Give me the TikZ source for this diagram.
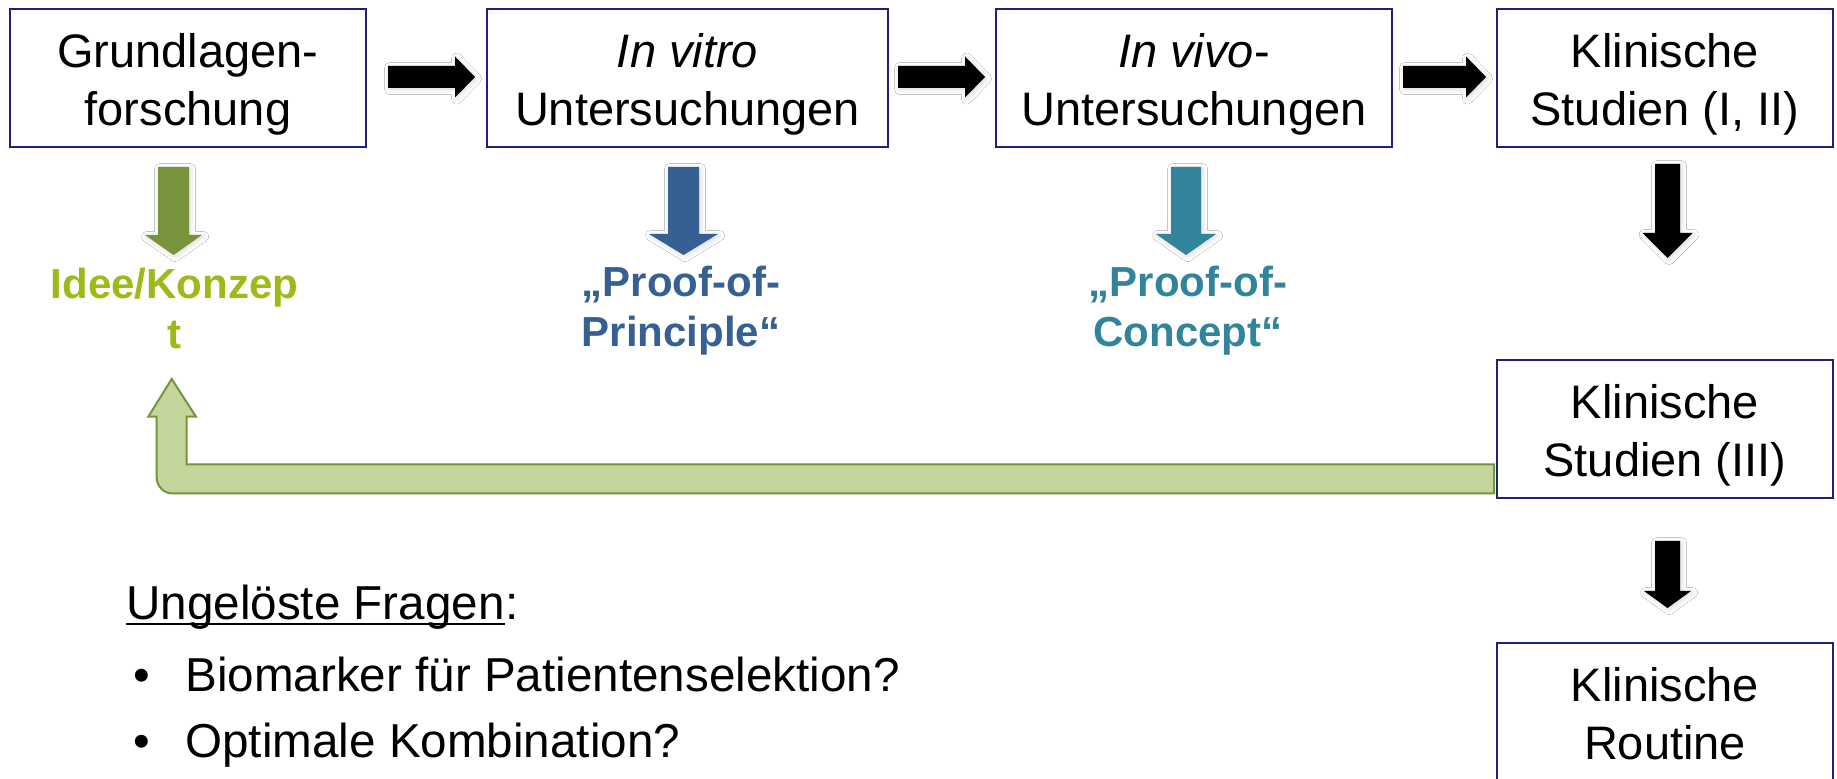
\documentclass[tikz,border=0pt]{standalone}
\usepackage{fontspec}
\setmainfont{Liberation Sans}
\usetikzlibrary{calc,shadows.blur}
\definecolor{navyb}{RGB}{32,32,128}
\definecolor{olivegr}{RGB}{119,147,60}
\definecolor{ideegr}{RGB}{155,187,25}
\definecolor{pblue}{RGB}{55,96,146}
\definecolor{pteal}{RGB}{49,132,155}
\definecolor{lightgr}{RGB}{195,214,155}
% two-line box text, set a little lower than centred
\newcommand\btext[1]{\raisebox{-3.3pt}[\height][\depth]{\begin{tabular}{@{}c@{}}#1\end{tabular}}}
% right block arrow: start, tip, colour
\newcommand\rblock[3]{%
  \fill[#3,bshadow] ($(#1)+(0,-11)$) -- ($(#2)+(-20,-11)$) -- ($(#2)+(-20,-20.5)$) -- (#2)
    -- ($(#2)+(-20,20.5)$) -- ($(#2)+(-20,11)$) -- ($(#1)+(0,11)$) -- cycle;}
% down block arrow: top, tip, shaft half, head half, head length, colour
\newcommand\dblock[6]{%
  \fill[#6,bshadow] ($(#1)+(-#3,0)$) -- ($(#2)+(-#3,-#5)$) -- ($(#2)+(-#4,-#5)$) -- (#2)
    -- ($(#2)+(#4,-#5)$) -- ($(#2)+(#3,-#5)$) -- ($(#1)+(#3,0)$) -- cycle;}
\begin{document}
\begin{tikzpicture}[x=0.5pt,y=-0.5pt,
  box/.style={draw=navyb, line width=1pt, fill=white, inner sep=0pt, minimum height=69pt,
    font=\fontsize{23.5}{29}\selectfont},
  lab/.style={inner sep=0pt, align=center, font=\bfseries\fontsize{21}{25}\selectfont},
  qtext/.style={inner sep=0pt, anchor=base west, font=\fontsize{23.8}{29}\selectfont},
  bshadow/.style={blur shadow={shadow xshift=0.8pt,shadow yshift=-0.8pt,shadow blur radius=2.5pt,shadow opacity=15}}]
\useasboundingbox (0,0) rectangle (1837,779);
\clip (0,0) rectangle (1837,779);
\fill[white] (0,0) rectangle (1837,779);

% boxes
\node[box, minimum width=178pt]   (b1) at (188,78)    {\btext{Grundlagen-\\forschung}};
\node[box, minimum width=200.5pt] (b2) at (687.5,78)  {\btext{\textit{In vitro}\\Untersuchungen}};
\node[box, minimum width=198pt]   (b3) at (1194,78)   {\btext{\textit{In vivo}-\\Untersuchungen}};
\node[box, minimum width=168pt]   (b4) at (1665,78)   {\btext{Klinische\\Studien (I, II)}};
\node[box, minimum width=168pt]   (b5) at (1665,429.5) {\btext{Klinische\\Studien (III)}};
\node[box, minimum width=168pt]   (b6) at (1665,712)  {\btext{Klinische\\Routine}};

% right arrows
\coordinate (r1s) at ($(b1.east)+(21,-1)$);
\coordinate (r1t) at ($(b2.west)+(-11,-1)$);
\coordinate (r2s) at ($(b2.east)+(9,-1)$);
\coordinate (r2t) at ($(b3.west)+(-10,-1)$);
\coordinate (r3s) at ($(b3.east)+(10,-1)$);
\coordinate (r3t) at ($(b4.west)+(-10,-1)$);
\rblock{r1s}{r1t}{black}
\rblock{r2s}{r2t}{black}
\rblock{r3s}{r3t}{black}

% down arrows
\coordinate (g1s) at ($(b1.south)+(-14.5,19)$);
\coordinate (g1t) at ($(b1.south)+(-14.5,107)$);
\coordinate (g2s) at ($(b2.south)+(-4,19)$);
\coordinate (g2t) at ($(b2.south)+(-4,107)$);
\coordinate (g3s) at ($(b3.south)+(-8,19)$);
\coordinate (g3t) at ($(b3.south)+(-8,107)$);
\coordinate (k1s) at ($(b4.south)+(2.5,16)$);
\coordinate (k1t) at ($(b4.south)+(2.5,110)$);
\coordinate (k2s) at ($(b5.south)+(2.5,41.5)$);
\coordinate (k2t) at ($(b5.south)+(2.5,108.5)$);
\dblock{g1s}{g1t}{15.5}{28.5}{20}{olivegr}
\dblock{g2s}{g2t}{15.5}{34.5}{21}{pblue}
\dblock{g3s}{g3t}{15}{30}{21}{pteal}
\dblock{k1s}{k1t}{12.5}{25}{25}{black}
\dblock{k2s}{k2t}{12.5}{23.5}{17}{black}

% labels
\node[lab, text=ideegr] (l1) at (174.5,308)  {Idee/Konzep\\t};
\node[lab, text=pblue]  (l2) at (681,311)    {„Proof-of-\\Principle“};
\node[lab, text=pteal]  (l3) at (1188,311)   {„Proof-of-\\Concept“};

% feedback arrow from Klinische Studien (III) back to Idee/Konzept
\coordinate (fbtip) at (171.7,379);
\path (b5.west) ++(-2,35) coordinate (fbT) ++(0,29) coordinate (fbB);
\filldraw[fill=lightgr, draw=olivegr, line width=1pt]
  (fbT) -- (186.7,464.5) -- (186.7,416.7) -- (196,416.7) -- (fbtip)
  -- (148.3,416.7) -- (156.7,416.7) -- (156.7,440) [rounded corners=8pt] -- (156.7,493.5)
  -- (300,493.5) [sharp corners] -- (fbB) -- cycle;

% open questions
\node[qtext] (uq) at (126,620) {Ungelöste Fragen};
\node[qtext] (uc) at (uq.base east) {:};
\draw[line width=1pt] ([yshift=-2pt]uq.base west) -- ([yshift=-2pt]uq.base east);
\node[qtext] (bu1) at (133,692) {•};
\node[qtext] (q1)  at (185,692) {Biomarker für Patientenselektion?};
\node[qtext] (bu2) at (133,758) {•};
\node[qtext] (q2)  at (185,758) {Optimale Kombination?};
\end{tikzpicture}
\end{document}
